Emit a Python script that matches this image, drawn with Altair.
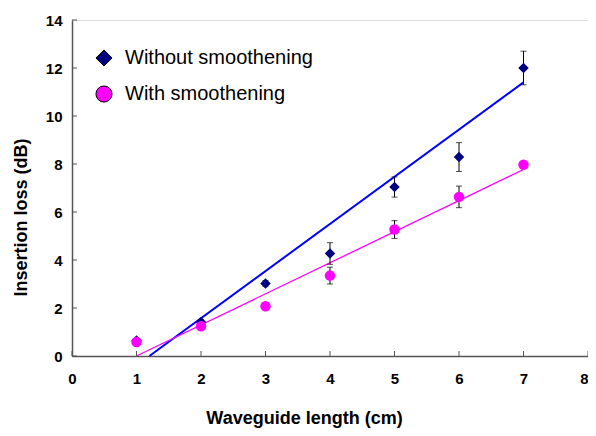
import altair as alt
import pandas as pd

# ---- data ----
lengths = [1, 2, 3, 4, 5, 6, 7]
without_vals = [0.65, 1.42, 3.02, 4.27, 7.04, 8.29, 12.0]
without_err = [0.08, 0.08, 0.12, 0.45, 0.42, 0.6, 0.7]
with_vals = [0.58, 1.24, 2.07, 3.35, 5.27, 6.63, 7.97]
with_err = [0.05, 0.08, 0.05, 0.35, 0.37, 0.45, 0.05]

series_names = ["Without smoothening", "With smoothening"]

# trend lines (end points)
fit_without_x = [1.2, 7.0]
fit_without_y = [0.0, 11.4]
fit_with_x = [1.0, 7.0]
fit_with_y = [0.0, 7.77]

x_ticks = [0, 1, 2, 3, 4, 5, 6, 7, 8]
y_ticks = [0, 2, 4, 6, 8, 10, 12, 14]

FONT = "Liberation Sans"

rows = []
for name, vals, errs in [(series_names[0], without_vals, without_err),
                         (series_names[1], with_vals, with_err)]:
    for x, v, e in zip(lengths, vals, errs):
        rows.append({"series": name, "x": x, "y": v, "lo": v - e, "hi": v + e})
pts = pd.DataFrame(rows)

fit_a = pd.DataFrame({"x": fit_without_x, "y": fit_without_y})
fit_b = pd.DataFrame({"x": fit_with_x, "y": fit_with_y})

xscale = alt.Scale(domain=[0, 8], nice=False, zero=False)
yscale = alt.Scale(domain=[0, 14], nice=False, zero=False)

x_axis = alt.Axis(
    values=x_ticks, format="d", title="Waveguide length (cm)",
    grid=False, tickSize=0, domainColor="#555", domainWidth=1.5,
    labelFont=FONT, labelFontWeight="bold", labelFontSize=15, labelColor="black",
    labelPadding=15, labelFlush=False,
    labelAlign={"condition": {"test": "datum.value >= 8", "value": "right"}, "value": "center"},
    titleFont=FONT, titleFontWeight="bold", titleFontSize=18, titleColor="black",
    titleX=232, titleY=67, titleBaseline="alphabetic", titleAnchor="middle", titleAlign="center",
)
y_axis = alt.Axis(
    values=y_ticks, format="d", title="Insertion loss (dB)",
    grid=False, tickSize=0, domainColor="#555", domainWidth=1.5,
    labelFont=FONT, labelFontWeight="bold", labelFontSize=15, labelColor="black",
    labelPadding=10,
    titleFont=FONT, titleFontWeight="bold", titleFontSize=18, titleColor="black",
    titleX=-51, titleY=197, titleAngle=-90, titleBaseline="middle", titleAlign="center",
)

X = alt.X("x:Q", scale=xscale, axis=x_axis)
Y = alt.Y("y:Q", scale=yscale, axis=y_axis)

line_a = alt.Chart(fit_a).mark_line(color="#0000FF", strokeWidth=2).encode(X, Y)
line_b = alt.Chart(fit_b).mark_line(color="#FF00FF", strokeWidth=1.3).encode(X, Y)

points = alt.Chart(pts).mark_point(filled=True, size=110, opacity=1).encode(
    x=alt.X("x:Q", scale=xscale),
    y=alt.Y("y:Q", scale=yscale),
    color=alt.Color("series:N",
                    scale=alt.Scale(domain=series_names, range=["#000080", "#FF00FF"]),
                    legend=alt.Legend(
                        title=None, orient="none", legendX=22, legendY=28,
                        symbolSize=260, symbolStrokeColor="black", symbolStrokeWidth=1,
                        labelFont=FONT, labelFontSize=20, labelColor="black",
                        labelOffset=11, rowPadding=14, padding=0,
                        labelLimit=400)),
    shape=alt.Shape("series:N",
                    scale=alt.Scale(domain=series_names, range=["diamond", "circle"]),
                    legend=None),
)

err_rule = alt.Chart(pts).mark_rule(color="black", strokeWidth=1).encode(
    x=alt.X("x:Q", scale=xscale),
    y=alt.Y("lo:Q", scale=yscale),
    y2="hi:Q",
)
cap_lo = alt.Chart(pts).mark_tick(color="black", thickness=1, size=6, orient="horizontal").encode(
    x=alt.X("x:Q", scale=xscale), y=alt.Y("lo:Q", scale=yscale))
cap_hi = alt.Chart(pts).mark_tick(color="black", thickness=1, size=6, orient="horizontal").encode(
    x=alt.X("x:Q", scale=xscale), y=alt.Y("hi:Q", scale=yscale))

# inward tick marks
yt = alt.Chart(pd.DataFrame({"t": y_ticks})).mark_rule(color="#555", strokeWidth=1).encode(
    y=alt.Y("t:Q", scale=yscale), x=alt.value(0), x2=alt.value(5))
xt = alt.Chart(pd.DataFrame({"t": x_ticks})).mark_rule(color="#555", strokeWidth=1).encode(
    x=alt.X("t:Q", scale=xscale), y=alt.value(336), y2=alt.value(331))

chart = alt.layer(line_a, line_b, err_rule, cap_lo, cap_hi, points, yt, xt).properties(
    width=516, height=336,
    padding={"left": 64, "top": 12, "right": 0, "bottom": 72},
    autosize="none",
).configure_view(stroke=None).configure(background="white")

chart.save("out.html", embed_options={"renderer": "svg", "actions": False})
